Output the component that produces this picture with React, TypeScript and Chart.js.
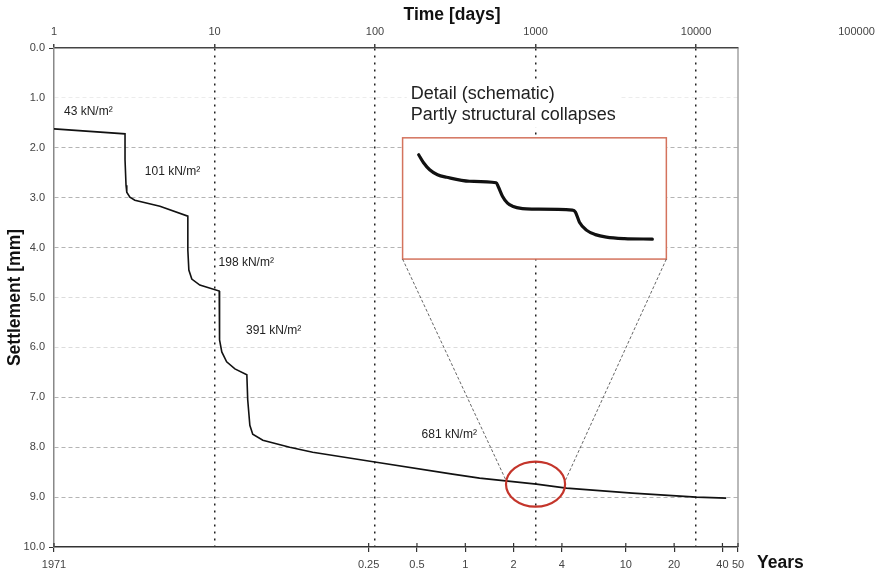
import React, { useEffect, useRef } from "react";
import { Chart, registerables } from "chart.js";

Chart.register(...registerables);

const FONT = "'Liberation Sans', Arial, Helvetica, sans-serif";

// ---- measured settlement curve (time in days, settlement in mm) ----
const timeDays = [1, 2.77, 2.77, 2.81, 2.84, 2.97, 3.19, 4.57, 6.82, 6.82, 6.92, 7.22, 8.1, 10.7, 10.7, 10.8, 11.1, 11.9, 13.4, 15.9, 16.1, 16.6, 17.3, 20.0, 29.4, 40.9, 102, 304, 448, 1013, 1557, 4010, 10030, 15400];
const settlementMm = [1.62, 1.72, 2.24, 2.75, 2.89, 2.99, 3.05, 3.17, 3.37, 4.05, 4.45, 4.63, 4.75, 4.87, 5.05, 5.85, 6.09, 6.29, 6.43, 6.55, 7.05, 7.56, 7.74, 7.86, 8.0, 8.10, 8.30, 8.54, 8.62, 8.74, 8.82, 8.92, 9.0, 9.02];

// ---- schematic detail curve (drawn inside the inset, in the same day/mm space) ----
const schemDays = [187, 200.6, 219, 245, 279, 388, 569, 588, 622, 669, 718, 829, 957, 1698, 1772, 1877, 2074, 2360, 2763, 3575, 5340];
const schemMm = [2.14, 2.30, 2.44, 2.54, 2.59, 2.67, 2.70, 2.79, 2.97, 3.11, 3.17, 3.22, 3.23, 3.25, 3.29, 3.49, 3.65, 3.74, 3.79, 3.82, 3.83];

// ---- axes ----
const axisMinDays = 1;
const axisMaxYears = 50;
const daysPerYear = 365;
const dayTicks = [1, 10, 100, 1000, 10000];
const extraDayTick = 100000;
const yearTickYears = [0, 0.25, 0.5, 1, 2, 4, 10, 20, 40, 50];
const yearTickLabels = ["1971", "0.25", "0.5", "1", "2", "4", "10", "20", "40", "50"];
const settlementTicks = [0, 1, 2, 3, 4, 5, 6, 7, 8, 9, 10];

// ---- load step labels ----
const loadLabels = ["43 kN/m²", "101 kN/m²", "198 kN/m²", "391 kN/m²", "681 kN/m²"];
const loadLabelDays = [1.154, 3.68, 10.6, 15.7, 195];
const loadLabelMm = [1.28, 2.48, 4.31, 5.67, 7.74];

// ---- detail inset ----
const detailLines = ["Detail (schematic)", "Partly structural collapses"];
const detailTextDays = 167;
const detailTextMm = [0.92, 1.34];
const insetDays = [148.5, 6530];
const insetMm = [1.80, 4.23];
const circleDays = [658, 1000, 1536];
const circleMm = [8.28, 8.74, 9.18];
const connectorEndDays = [658, 1536];
const connectorEndMm = [8.68, 8.66];

const axisMaxDays = axisMaxYears * daysPerYear;
const yearTickDays = yearTickYears.map((y) => (y === 0 ? axisMinDays : y * daysPerYear));

const gridColor = (v: number) => {
  if (v === 0 || v === 10) return "rgba(0,0,0,0)";
  if (v === 1) return "#ececec";
  if (v === 5 || v === 6) return "#dcdcdc";
  return "#b4b4b4";
};

const overlayPlugin = {
  id: "overlay",
  beforeDatasetsDraw(chart: any) {
    const { ctx } = chart;
    const x = chart.scales.x;
    const y = chart.scales.y;
    const l = x.getPixelForValue(insetDays[0]);
    const r = x.getPixelForValue(insetDays[1]);
    const t = y.getPixelForValue(insetMm[0]);
    const b = y.getPixelForValue(insetMm[1]);
    ctx.save();
    // white background behind the detail text
    ctx.font = `18px ${FONT}`;
    const tx = x.getPixelForValue(detailTextDays);
    const ty0 = y.getPixelForValue(detailTextMm[0]);
    const ty1 = y.getPixelForValue(detailTextMm[1]);
    const w = Math.max(...detailLines.map((s) => ctx.measureText(s).width));
    ctx.fillStyle = "#ffffff";
    ctx.fillRect(tx - 4, ty0 - 13, w + 8, ty1 - ty0 + 26);
    // inset box
    ctx.fillRect(l, t, r - l, b - t);
    ctx.strokeStyle = "#d4735d";
    ctx.lineWidth = 1.5;
    ctx.strokeRect(l, t, r - l, b - t);
    ctx.restore();
  },
  afterDatasetsDraw(chart: any) {
    const { ctx, chartArea } = chart;
    const x = chart.scales.x;
    const xb = chart.scales.xb;
    const y = chart.scales.y;
    ctx.save();

    // right border
    ctx.strokeStyle = "#8a8a8a";
    ctx.lineWidth = 1.2;
    ctx.beginPath();
    ctx.moveTo(chartArea.right, chartArea.top);
    ctx.lineTo(chartArea.right, chartArea.bottom);
    ctx.stroke();

    // small upward tick marks on the year axis
    ctx.strokeStyle = "#333";
    ctx.lineWidth = 1.2;
    xb.ticks.forEach((tk: any) => {
      const px = xb.getPixelForValue(tk.value);
      ctx.beginPath();
      ctx.moveTo(px, chartArea.bottom - 4);
      ctx.lineTo(px, chartArea.bottom);
      ctx.stroke();
    });

    // connector lines
    const l = x.getPixelForValue(insetDays[0]);
    const r = x.getPixelForValue(insetDays[1]);
    const b = y.getPixelForValue(insetMm[1]);
    ctx.strokeStyle = "#555";
    ctx.lineWidth = 0.9;
    ctx.setLineDash([3, 2]);
    ctx.beginPath();
    ctx.moveTo(l, b);
    ctx.lineTo(x.getPixelForValue(connectorEndDays[0]), y.getPixelForValue(connectorEndMm[0]));
    ctx.moveTo(r, b);
    ctx.lineTo(x.getPixelForValue(connectorEndDays[1]), y.getPixelForValue(connectorEndMm[1]));
    ctx.stroke();
    ctx.setLineDash([]);

    // red ellipse
    const cx = x.getPixelForValue(circleDays[1]);
    const cy = y.getPixelForValue(circleMm[1]);
    const rx = (x.getPixelForValue(circleDays[2]) - x.getPixelForValue(circleDays[0])) / 2;
    const ry = (y.getPixelForValue(circleMm[2]) - y.getPixelForValue(circleMm[0])) / 2;
    ctx.strokeStyle = "#c4352b";
    ctx.lineWidth = 2.2;
    ctx.beginPath();
    ctx.ellipse(cx, cy, rx, ry, 0, 0, Math.PI * 2);
    ctx.stroke();

    // load labels
    ctx.fillStyle = "#222";
    ctx.textBaseline = "middle";
    ctx.textAlign = "left";
    ctx.font = `12px ${FONT}`;
    loadLabels.forEach((s, i) => {
      ctx.fillText(s, x.getPixelForValue(loadLabelDays[i]), y.getPixelForValue(loadLabelMm[i]));
    });

    // detail text
    ctx.font = `18px ${FONT}`;
    detailLines.forEach((s, i) => {
      ctx.fillText(s, x.getPixelForValue(detailTextDays), y.getPixelForValue(detailTextMm[i]));
    });

    // extra top tick label beyond axis
    ctx.font = `11px ${FONT}`;
    ctx.fillStyle = "#444";
    ctx.textAlign = "center";
    ctx.fillText(String(extraDayTick), x.getPixelForValue(extraDayTick), 32);

    // axis titles
    ctx.fillStyle = "#111";
    ctx.font = `bold 17.5px ${FONT}`;
    ctx.textAlign = "center";
    ctx.fillText("Time [days]", 452, 15);
    ctx.textAlign = "left";
    ctx.fillText("Years", 757, 563);

    ctx.restore();
  },
};

export default function App() {
  const ref = useRef<HTMLCanvasElement | null>(null);

  useEffect(() => {
    document.body.style.margin = "0";
    const canvas = ref.current;
    if (!canvas) return;
    const chart = new Chart(canvas, {
      type: "line",
      data: {
        datasets: [
          {
            data: timeDays.map((d, i) => ({ x: d, y: settlementMm[i] })),
            borderColor: "#111",
            borderWidth: 1.6,
            pointRadius: 0,
            tension: 0,
            xAxisID: "x",
            yAxisID: "y",
          },
          {
            data: schemDays.map((d, i) => ({ x: d, y: schemMm[i] })),
            borderColor: "#111",
            borderWidth: 3.2,
            pointRadius: 0,
            cubicInterpolationMode: "monotone",
            borderCapStyle: "round",
            xAxisID: "x",
            yAxisID: "y",
          },
        ],
      },
      options: {
        responsive: false,
        animation: false,
        devicePixelRatio: 1,
        layout: { padding: { left: 0, right: 145, top: 0, bottom: 0 } },
        plugins: { legend: { display: false }, tooltip: { enabled: false } },
        scales: {
          x: {
            type: "logarithmic",
            position: "top",
            min: axisMinDays,
            max: axisMaxDays,
            afterFit: (s: any) => {
              s.height = 48;
            },
            afterBuildTicks: (s: any) => {
              s.ticks = dayTicks.map((v) => ({ value: v }));
            },
            ticks: {
              autoSkip: false,
              maxRotation: 0,
              padding: 5,
              color: "#444",
              font: { family: FONT, size: 11 },
              callback: (v: any) => String(v),
            },
            grid: {
              color: (c: any) => (c.tick && c.tick.value > 1 ? "#222" : "rgba(0,0,0,0)"),
              lineWidth: 1.5,
              tickLength: 4,
              tickColor: "#444",
            },
            border: { color: "#444", width: 1.5, dash: [2, 5] },
          },
          xb: {
            type: "logarithmic",
            position: "bottom",
            min: axisMinDays,
            max: axisMaxDays,
            afterFit: (s: any) => {
              s.height = 24;
            },
            afterBuildTicks: (s: any) => {
              s.ticks = yearTickDays.map((v) => ({ value: v }));
            },
            ticks: {
              autoSkip: false,
              maxRotation: 0,
              padding: 6,
              color: "#444",
              font: { family: FONT, size: 11 },
              callback: (_v: any, i: number) => yearTickLabels[i],
            },
            grid: { drawOnChartArea: false, tickLength: 5, tickColor: "#333", lineWidth: 1.2 },
            border: { color: "#333", width: 1.5 },
          },
          y: {
            type: "linear",
            reverse: true,
            min: 0,
            max: 10,
            afterFit: (s: any) => {
              s.width = 54;
            },
            afterBuildTicks: (s: any) => {
              s.ticks = settlementTicks.map((v) => ({ value: v }));
            },
            ticks: {
              padding: 4,
              color: "#444",
              font: { family: FONT, size: 11 },
              callback: (v: any) => Number(v).toFixed(1),
            },
            grid: {
              color: (c: any) => gridColor(c.tick ? c.tick.value : -1),
              lineWidth: 1,
              tickLength: 5,
              tickColor: (c: any) =>
                c.tick && (c.tick.value === 0 || c.tick.value === 10) ? "#333" : "rgba(0,0,0,0)",
            },
            border: { color: "#888", width: 1.5, dash: [4, 3] },
            title: {
              display: true,
              text: "Settlement [mm]",
              color: "#111",
              font: { family: FONT, size: 17.5, weight: "bold" },
              padding: { top: 5, bottom: 0 },
            },
          },
        },
      } as any,
      plugins: [overlayPlugin],
    });
    return () => chart.destroy();
  }, []);

  return (
    <div style={{ position: "absolute", left: 0, top: 0, width: 883, height: 571, background: "#fff" }}>
      <canvas ref={ref} width={883} height={571} style={{ display: "block" }} />
    </div>
  );
}
